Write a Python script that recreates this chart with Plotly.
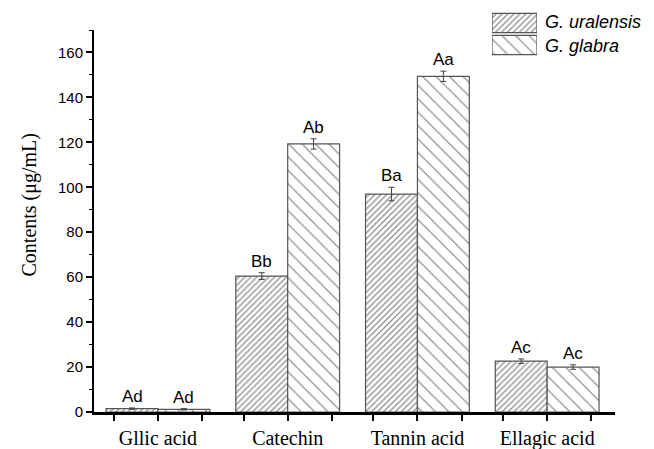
import plotly.graph_objects as go

categories = ["Gllic acid", "Catechin", "Tannin acid", "Ellagic acid"]
series_names = ["G. uralensis", "G. glabra"]
uralensis_vals = [1.5, 60.5, 97.0, 22.6]
uralensis_err = [0.3, 1.5, 3.0, 1.0]
glabra_vals = [1.2, 119.3, 149.4, 20.0]
glabra_err = [0.3, 2.3, 2.3, 1.0]
uralensis_labels = ["Ad", "Bb", "Ba", "Ac"]
glabra_labels = ["Ad", "Ab", "Aa", "Ac"]
y_ticks = [0, 20, 40, 60, 80, 100, 120, 140, 160]

# page body has an 8px margin; size the figure so it fills the window exactly
OFF = 8
W, H = 654 - OFF, 449 - OFF
L, R, T, B = 86, 39, 2, 37
pw, ph = W - L - R, H - T - B


def px(sx):
    return (sx - OFF - L) / pw


def py(sy):
    return (H - B - (sy - OFF)) / ph


main_top = py(30)

xs = list(range(1, len(categories) + 1))
pat_u = dict(shape="/", size=4.2, solidity=0.32, fgcolor="#222222", bgcolor="white")
pat_g = dict(shape="\\", size=9.5, solidity=0.13, fgcolor="#222222", bgcolor="white")
outline = dict(color="#555555", width=1.2)
lab_font = dict(family="Liberation Sans, Arial", size=17, color="black")

fig = go.Figure()
fig.add_trace(go.Bar(
    x=xs, y=uralensis_vals, name=series_names[0],
    marker=dict(color="white", pattern=pat_u, line=outline),
    error_y=dict(type="data", array=uralensis_err, color="#444444", thickness=1, width=3),
    showlegend=False,
))
fig.add_trace(go.Bar(
    x=xs, y=glabra_vals, name=series_names[1],
    marker=dict(color="white", pattern=pat_g, line=outline),
    error_y=dict(type="data", array=glabra_err, color="#444444", thickness=1, width=3),
    showlegend=False,
))

# legend swatches drawn as bars on a small helper axis
fig.add_trace(go.Bar(
    x=[1], y=[series_names[0]], orientation="h", xaxis="x2", yaxis="y2", width=0.88,
    marker=dict(color="white", pattern=pat_u, line=outline), showlegend=False, hoverinfo="skip",
))
fig.add_trace(go.Bar(
    x=[1], y=[series_names[1]], orientation="h", xaxis="x2", yaxis="y2", width=0.88,
    marker=dict(color="white", pattern=pat_g, line=outline), showlegend=False, hoverinfo="skip",
))

annotations = []
for i, xv in enumerate(xs):
    annotations.append(dict(x=xv - 0.2, y=uralensis_vals[i] + uralensis_err[i], text=uralensis_labels[i],
                            xref="x", yref="y", showarrow=False, yanchor="bottom", font=lab_font))
    annotations.append(dict(x=xv + 0.2, y=glabra_vals[i] + glabra_err[i], text=glabra_labels[i],
                            xref="x", yref="y", showarrow=False, yanchor="bottom", font=lab_font))

annotations.append(dict(text="Contents (μg/mL)", textangle=-90, xref="paper", yref="paper",
                        x=px(29.5), y=py(205), showarrow=False,
                        xanchor="center", yanchor="middle",
                        font=dict(family="Liberation Serif, Times New Roman", size=20, color="black")))
for name, yc in zip(series_names, [22.5, 46]):
    annotations.append(dict(text="<i>" + name + "</i>", xref="paper", yref="paper",
                            x=px(543), y=py(yc), showarrow=False,
                            xanchor="left", yanchor="middle",
                            font=dict(family="Liberation Sans, Arial", size=18, color="black")))

tickvals = []
ticktext = []
for xv, c in zip(xs, categories):
    tickvals += [xv - 0.34, xv, xv + 0.34]
    ticktext += ["", c, ""]

fig.update_layout(
    width=W, height=H,
    margin=dict(l=L, r=R, t=T, b=B),
    plot_bgcolor="white", paper_bgcolor="white",
    barmode="group", bargap=0.2, bargroupgap=0,
    annotations=annotations,
    xaxis=dict(range=[0.507, 4.523], tickvals=tickvals, ticktext=ticktext,
               ticks="outside", ticklen=6, tickwidth=1.5, tickcolor="black",
               showline=True, linecolor="black", linewidth=2.5, showgrid=False, zeroline=False,
               tickfont=dict(family="Liberation Serif, Times New Roman", size=20, color="black"),
               ticklabelstandoff=0, anchor="y", automargin=False),
    yaxis=dict(range=[0, 170], domain=[0, main_top], tickvals=y_ticks,
               ticks="outside", ticklen=6, tickwidth=1.5, tickcolor="black",
               minor=dict(dtick=10, tick0=0, ticks="outside", ticklen=3, tickwidth=1.2, tickcolor="black"),
               showline=True, linecolor="black", linewidth=2, showgrid=False, zeroline=False,
               tickfont=dict(family="Liberation Sans, Arial", size=15, color="black"),
               anchor="x", automargin=False),
    xaxis2=dict(domain=[px(492), px(537)], range=[0, 1], visible=False, anchor="y2"),
    yaxis2=dict(domain=[py(56), py(12)], visible=False, anchor="x2",
                categoryorder="array", categoryarray=series_names[::-1]),
)

fig.write_html("out.html")
